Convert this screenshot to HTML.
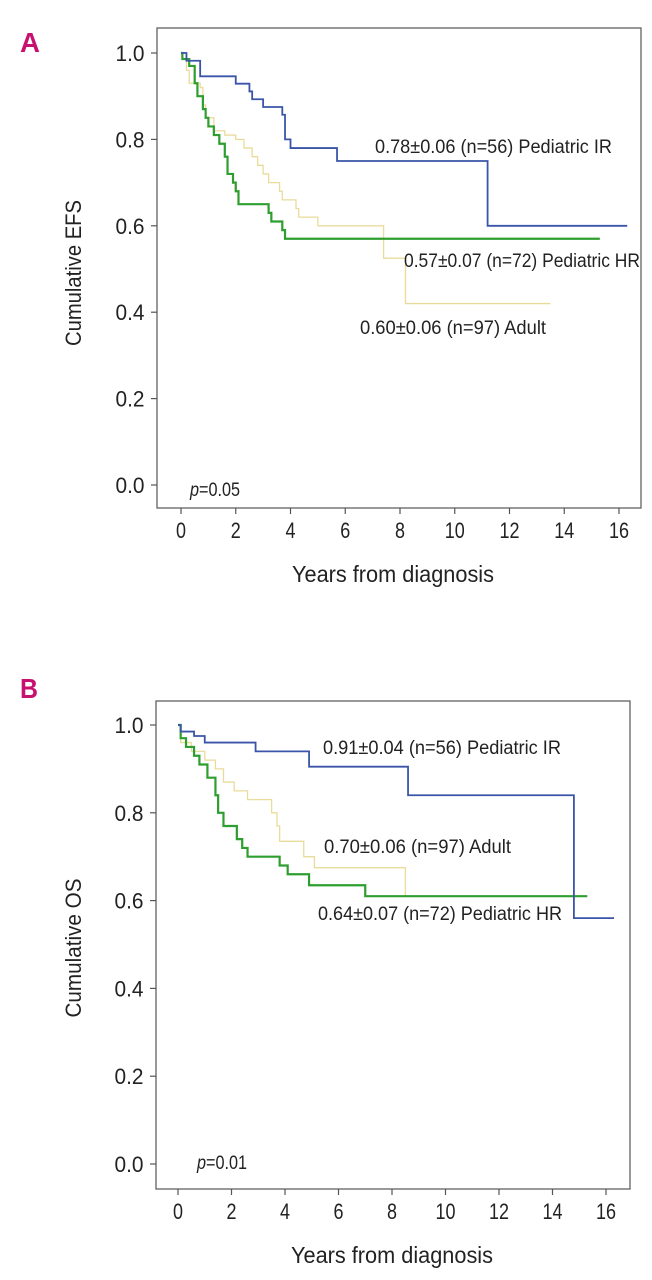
<!DOCTYPE html>
<html><head><meta charset="utf-8"><style>
html,body{margin:0;padding:0;background:#fff;}
svg{display:block;}
text{font-family:"Liberation Sans Narrow","Liberation Sans",sans-serif;fill:#222;}
</style></head><body>
<svg id="fig" width="652" height="1280" viewBox="0 0 652 1280">
<text x="20" y="52" font-size="28" font-weight="bold" textLength="20" lengthAdjust="spacingAndGlyphs" style="fill:#c8106e;font-family:'Liberation Sans',sans-serif">A</text>
<text x="20" y="698" font-size="28" font-weight="bold" textLength="18" lengthAdjust="spacingAndGlyphs" style="fill:#c8106e;font-family:'Liberation Sans',sans-serif">B</text>
</svg>
<script>
// Panel A data (EFS)
const aIRx=[0,0.2,0.7,2.0,2.5,2.6,3.0,3.7,3.8,4.0,5.7,11.2,16.3];
const aIRy=[1.0,0.982,0.946,0.929,0.911,0.893,0.875,0.857,0.80,0.78,0.75,0.60,0.60];
const aHRx=[0,0.05,0.3,0.5,0.6,0.8,0.9,1.0,1.2,1.4,1.6,1.7,1.9,2.0,2.1,3.2,3.3,3.7,3.8,15.3];
const aHRy=[1.0,0.986,0.97,0.93,0.90,0.87,0.85,0.83,0.81,0.79,0.76,0.72,0.70,0.68,0.65,0.63,0.61,0.59,0.57,0.57];
const aADx=[0,0.2,0.3,0.7,0.8,0.9,1.2,1.6,2.0,2.3,2.6,2.8,3.0,3.2,3.6,3.7,4.2,4.3,5.0,7.4,8.2,13.5];
const aADy=[1.0,0.96,0.93,0.92,0.88,0.85,0.82,0.81,0.80,0.78,0.76,0.74,0.72,0.70,0.68,0.66,0.64,0.62,0.60,0.525,0.42,0.42];
// Panel B data (OS)
const bIRx=[0,0.1,0.6,1.0,2.9,4.9,8.6,14.8,16.3];
const bIRy=[1.0,0.985,0.975,0.96,0.94,0.905,0.84,0.56,0.56];
const bHRx=[0,0.1,0.3,0.6,0.8,1.1,1.4,1.5,1.7,2.2,2.4,2.6,3.8,4.1,4.9,7.0,15.3];
const bHRy=[1.0,0.97,0.95,0.93,0.91,0.88,0.84,0.80,0.77,0.74,0.72,0.70,0.68,0.66,0.635,0.61,0.61];
const bADx=[0,0.1,0.5,1.0,1.4,1.7,2.1,2.6,3.5,3.7,3.8,4.7,5.1,8.5,13.6];
const bADy=[1.0,0.96,0.94,0.92,0.90,0.87,0.85,0.83,0.80,0.77,0.735,0.70,0.675,0.61,0.61];
const xTicks=[0,2,4,6,8,10,12,14,16];
const yTicks=[0.0,0.2,0.4,0.6,0.8,1.0];
const yTickLabels=["0.0","0.2","0.4","0.6","0.8","1.0"];

const NS="http://www.w3.org/2000/svg";
const svg=document.getElementById('fig');
function mk(tag,attrs,parent){const e=document.createElementNS(NS,tag);for(const k in attrs)e.setAttribute(k,attrs[k]);(parent||svg).appendChild(e);return e;}

function panel(cfg){
  const g=mk('g',{});
  
  
  const X=t=>cfg.x0+t*(cfg.x16-cfg.x0)/16;
  const Y=v=>cfg.y0-v*(cfg.y0-cfg.y1);
  const box=mk('rect',{x:cfg.left,y:cfg.top,width:cfg.right-cfg.left,height:cfg.bottom-cfg.top,fill:'none',stroke:'#555','stroke-width':1.2},g);
  
  
  yTicks.forEach((v,i)=>{
    mk('line',{x1:cfg.left-6,x2:cfg.left,y1:Y(v),y2:Y(v),stroke:'#555','stroke-width':1.2},g);
    const t=mk('text',{x:cfg.left-27,y:Y(v)+8,'font-size':22,'text-anchor':'middle',textLength:29,lengthAdjust:'spacingAndGlyphs'},g);
    t.textContent=yTickLabels[i];
    
    
  });
  xTicks.forEach(v=>{
    mk('line',{x1:X(v),x2:X(v),y1:cfg.bottom,y2:cfg.bottom+6,stroke:'#555','stroke-width':1.2},g);
    const s=String(v);
    const t=mk('text',{x:X(v),y:cfg.bottom+30,'font-size':22,'text-anchor':'middle',textLength:s.length*10,lengthAdjust:'spacingAndGlyphs'},g);
    t.textContent=s;
    
    
  });
  const xt=mk('text',{x:cfg.xtX,y:cfg.bottom+74,'font-size':23,'text-anchor':'middle',textLength:202,lengthAdjust:'spacingAndGlyphs'},g);
  xt.textContent='Years from diagnosis';
  
  
  const yt=mk('text',{x:0,y:0,'font-size':22,'text-anchor':'middle',textLength:cfg.ytLen,lengthAdjust:'spacingAndGlyphs',transform:`translate(81,${cfg.ytY}) rotate(-90)`},g);
  yt.textContent=cfg.ytitle;
  
  
  cfg.series.forEach(s=>{
    let d='M'+X(s.x[0])+','+Y(s.y[0]);
    for(let i=1;i<s.x.length;i++){d+=' H'+X(s.x[i])+' V'+Y(s.y[i]);}
    const p=mk('path',{d:d,fill:'none',stroke:s.color,'stroke-width':s.w},g);
    
    
  });
  cfg.labels.forEach(l=>{
    const t=mk('text',{x:l.x,y:l.y,'font-size':19,textLength:l.len,lengthAdjust:'spacingAndGlyphs'},g);
    t.textContent=l.text;
    
    
  });
  const pv=mk('text',{x:cfg.pX,y:cfg.pY,'font-size':19,textLength:50,lengthAdjust:'spacingAndGlyphs'},g);
  pv.innerHTML='<tspan font-style="italic">p</tspan>='+cfg.p;
  
  
}

panel({name:'panel-a-efs',left:157,right:641,top:28,bottom:508,x0:181,x16:619,y0:485,y1:53,ytitle:'Cumulative EFS',ytLen:146,ytY:273,xtX:393,
  series:[{name:'adult-curve',x:aADx,y:aADy,color:'#e9dc9a',w:1.3},
          {name:'pediatric-hr-curve',x:aHRx,y:aHRy,color:'#2e9e2e',w:2.2},
          {name:'pediatric-ir-curve',x:aIRx,y:aIRy,color:'#3a55a8',w:1.8}],
  labels:[{name:'label-pediatric-ir',text:'0.78±0.06 (n=56) Pediatric IR',x:375,y:153,len:237},
          {name:'label-pediatric-hr',text:'0.57±0.07 (n=72) Pediatric HR',x:404,y:267,len:236},
          {name:'label-adult',text:'0.60±0.06 (n=97) Adult',x:360,y:334,len:186}],
  pX:190,pY:496,p:'0.05'});
panel({name:'panel-b-os',left:156,right:630,top:701,bottom:1189,x0:178,x16:606,y0:1164,y1:725,ytitle:'Cumulative OS',ytLen:139,ytY:948,xtX:392,
  series:[{name:'adult-curve',x:bADx,y:bADy,color:'#e9dc9a',w:1.3},
          {name:'pediatric-hr-curve',x:bHRx,y:bHRy,color:'#2e9e2e',w:2.2},
          {name:'pediatric-ir-curve',x:bIRx,y:bIRy,color:'#3a55a8',w:1.8}],
  labels:[{name:'label-pediatric-ir',text:'0.91±0.04 (n=56) Pediatric IR',x:323,y:754,len:238},
          {name:'label-adult',text:'0.70±0.06 (n=97) Adult',x:324,y:853,len:187},
          {name:'label-pediatric-hr',text:'0.64±0.07 (n=72) Pediatric HR',x:318,y:920,len:244}],
  pX:197,pY:1169,p:'0.01'});
</script>
</body></html>
